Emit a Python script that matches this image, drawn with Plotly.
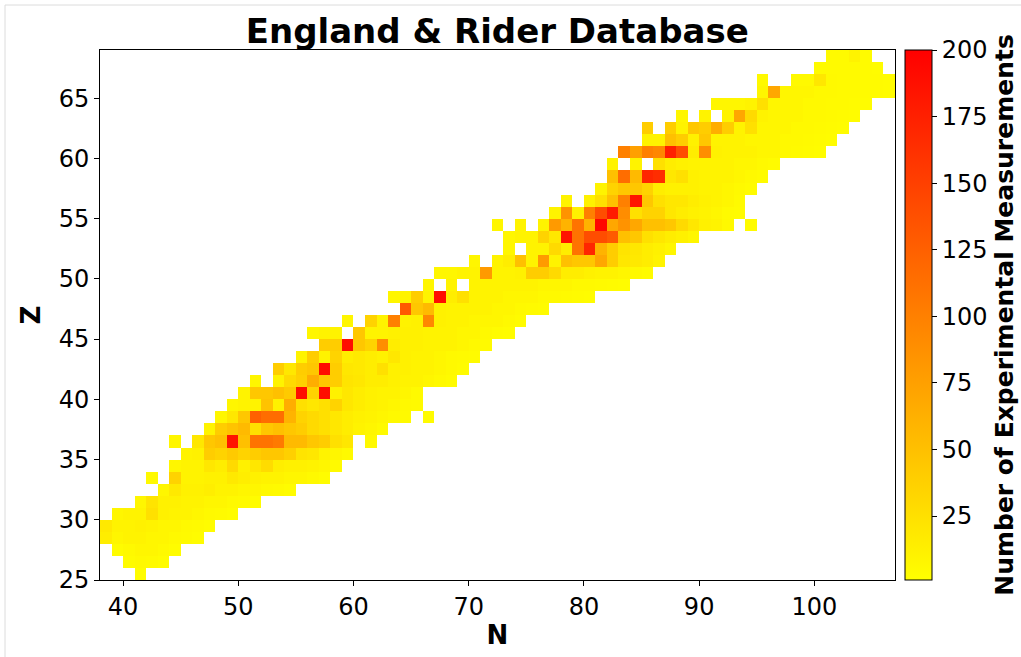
import numpy as np
import plotly.graph_objects as go

# Proton number of each row and first neutron number of the row
Z_ROWS = list(range(25, 69))
N_START = [41, 40, 39, 38, 38, 39, 41, 43, 42, 44, 45, 44, 47, 48, 49, 50, 51, 53,
           55, 57, 56, 59, 64, 63, 66, 67, 70, 73, 73, 72, 77, 78, 81, 82, 82, 83,
           85, 85, 88, 91, 95, 95, 100, 101]
# Number of experimental measurements per nuclide along each row (0 = none)
COUNTS = [
    [3],
    [4, 6, 5, 3],
    [3, 6, 8, 8, 6, 3],
    [15, 8, 10, 10, 8, 8, 6, 5, 3],
    [18, 10, 10, 12, 10, 8, 8, 6, 5, 3],
    [8, 10, 10, 25, 12, 10, 10, 8, 6, 5, 3],
    [8, 22, 12, 12, 10, 10, 8, 8, 6, 5, 3],
    [8, 18, 12, 12, 14, 10, 10, 8, 8, 6, 5, 3],
    [6, 0, 35, 10, 10, 12, 12, 18, 14, 12, 10, 10, 8, 8, 6, 3],
    [8, 10, 10, 20, 15, 30, 12, 20, 28, 14, 12, 12, 10, 8, 5],
    [10, 12, 40, 35, 42, 35, 40, 45, 45, 38, 22, 20, 10, 8, 5],
    [8, 0, 20, 45, 50, 185, 50, 110, 110, 105, 55, 55, 45, 40, 25, 20, 0, 6],
    [10, 40, 48, 55, 25, 45, 50, 45, 40, 30, 25, 20, 15, 10, 8, 5],
    [8, 20, 45, 125, 115, 115, 60, 35, 30, 25, 20, 15, 12, 10, 8, 6, 5, 0, 4],
    [8, 10, 10, 48, 12, 65, 25, 20, 25, 35, 20, 15, 12, 10, 8, 6, 5],
    [10, 45, 45, 50, 42, 190, 35, 190, 12, 20, 15, 12, 10, 10, 8, 5],
    [8, 0, 10, 30, 38, 65, 45, 40, 22, 20, 15, 15, 12, 10, 10, 8, 6, 4],
    [40, 20, 40, 45, 190, 40, 20, 18, 15, 25, 12, 12, 10, 10, 8, 6, 4],
    [10, 40, 10, 35, 15, 18, 15, 12, 20, 12, 10, 10, 8, 6, 5, 4],
    [40, 40, 190, 45, 35, 90, 15, 12, 12, 10, 10, 10, 8, 6, 5],
    [8, 10, 10, 0, 45, 10, 10, 12, 12, 12, 10, 10, 10, 8, 8, 6, 4, 3],
    [8, 0, 35, 10, 100, 10, 12, 95, 12, 10, 10, 8, 8, 8, 6, 4],
    [130, 45, 55, 12, 10, 10, 10, 10, 8, 8, 6, 5, 4],
    [8, 10, 40, 10, 190, 15, 25, 10, 10, 10, 8, 8, 8, 6, 6, 5, 4, 3],
    [8, 0, 10, 0, 10, 10, 10, 10, 10, 10, 8, 8, 8, 6, 6, 5, 4, 3],
    [8, 8, 10, 10, 80, 10, 10, 12, 40, 40, 30, 15, 15, 12, 10, 10, 8, 6, 4],
    [8, 0, 10, 15, 50, 10, 80, 10, 50, 45, 45, 70, 40, 20, 18, 15, 10],
    [8, 0, 10, 10, 30, 15, 110, 170, 60, 40, 22, 20, 15, 12, 8],
    [8, 10, 10, 35, 20, 185, 110, 140, 140, 130, 50, 45, 25, 20, 15, 12, 8],
    [8, 0, 10, 0, 10, 80, 60, 110, 60, 195, 70, 85, 70, 50, 50, 45, 30, 20, 12, 10, 6, 0, 4],
    [10, 85, 12, 100, 140, 180, 90, 25, 35, 35, 20, 15, 12, 10, 8, 5, 4],
    [10, 0, 12, 25, 50, 100, 185, 45, 25, 20, 20, 15, 12, 10, 8, 5],
    [10, 35, 45, 45, 35, 15, 12, 12, 12, 10, 10, 8, 6, 4],
    [50, 115, 55, 170, 165, 20, 25, 12, 10, 10, 10, 8, 6, 4],
    [10, 0, 10, 0, 25, 15, 12, 10, 10, 10, 10, 8, 8, 6, 4],
    [100, 75, 100, 95, 175, 140, 15, 90, 12, 10, 10, 10, 8, 8, 6, 5, 4, 3],
    [10, 10, 50, 40, 12, 45, 10, 10, 10, 8, 8, 8, 6, 6, 5, 4, 3],
    [40, 0, 40, 10, 45, 40, 65, 40, 10, 25, 8, 8, 8, 6, 6, 5, 4, 3],
    [8, 0, 10, 0, 10, 70, 30, 10, 8, 8, 8, 6, 6, 5, 4, 3],
    [8, 8, 8, 10, 25, 8, 8, 8, 6, 6, 5, 5, 4, 3],
    [8, 70, 8, 8, 8, 6, 6, 5, 5, 4, 4, 3],
    [6, 0, 0, 6, 6, 20, 6, 5, 5, 4, 4, 3],
    [5, 5, 5, 5, 4, 3],
    [5, 5, 10, 4],
]
N_MIN, N_MAX = 38, 106
X_TICKS = [40, 50, 60, 70, 80, 90, 100]
Y_TICKS = [25, 30, 35, 40, 45, 50, 55, 60, 65]
CBAR_TICKS = [25, 50, 75, 100, 125, 150, 175, 200]

n_edges = np.arange(N_MIN, N_MAX + 2)
z_edges = np.arange(Z_ROWS[0], Z_ROWS[-1] + 2)
grid = np.full((len(Z_ROWS), N_MAX - N_MIN + 1), np.nan)
for i, (start, vals) in enumerate(zip(N_START, COUNTS)):
    for j, v in enumerate(vals):
        if v > 0:
            grid[i, start - N_MIN + j] = v

FONT = "DejaVu Sans"
fig = go.Figure(go.Heatmap(
    x=n_edges, y=z_edges, z=grid,
    colorscale=[[0, "rgb(255,255,0)"], [1, "rgb(255,0,0)"]],
    zmin=1, zmax=200,
    colorbar=dict(
        x=1.0126, xanchor="left", xpad=0, y=0.5, yanchor="middle", ypad=0,
        len=1, lenmode="fraction", thickness=27, thicknessmode="pixels",
        outlinewidth=1, outlinecolor="black",
        tickvals=CBAR_TICKS, ticks="outside", ticklen=5, tickcolor="black",
        tickfont=dict(family=FONT, size=24, color="black"),
        title=dict(text="<b>Number of Experimental Measurements</b>", side="right",
                   font=dict(family=FONT, size=25, color="black")),
    ),
    hoverongaps=False,
))

fig.update_layout(
    width=1021, height=657,
    margin=dict(l=100, r=126, t=50, b=77, autoexpand=False),
    paper_bgcolor="white", plot_bgcolor="white",
    title=dict(text="<b>England &amp; Rider Database</b>", x=0.487, xanchor="center",
               y=0.952, yanchor="middle",
               font=dict(family=FONT, size=34, color="black")),
    font=dict(family=FONT, color="black"),
    shapes=[
        # faint frame lines along the top and left of the picture
        dict(type="line", xref="paper", yref="paper",
             x0=-95 / 795, x1=1.2, y0=575 / 530, y1=575 / 530,
             line=dict(color="#dcdcdc", width=1), layer="below"),
        dict(type="line", xref="paper", yref="paper",
             x0=-95 / 795, x1=-95 / 795, y0=575 / 530, y1=-0.2,
             line=dict(color="#dcdcdc", width=1), layer="below"),
    ],
)
fig.update_xaxes(
    range=[N_MIN, N_MAX + 1], tickvals=X_TICKS,
    ticks="outside", ticklen=5, tickcolor="black",
    showline=True, linecolor="black", linewidth=1, mirror=True,
    showgrid=False, zeroline=False,
    tickfont=dict(family=FONT, size=24),
    title=dict(text="<b>N</b>", font=dict(family=FONT, size=26), standoff=6),
)
fig.update_yaxes(
    range=[Z_ROWS[0], Z_ROWS[-1] + 1], tickvals=Y_TICKS,
    ticks="outside", ticklen=5, tickcolor="black",
    showline=True, linecolor="black", linewidth=1, mirror=True,
    showgrid=False, zeroline=False,
    tickfont=dict(family=FONT, size=24),
    title=dict(text="<b>Z</b>", font=dict(family=FONT, size=26), standoff=10),
)

fig.write_html("out.html")
